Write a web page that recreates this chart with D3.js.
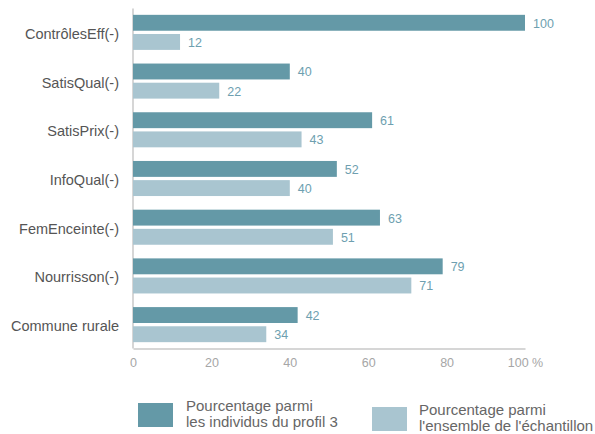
<!DOCTYPE html>
<html>
<head>
<meta charset="utf-8">
<script src="https://cdn.jsdelivr.net/npm/d3@7"></script>
<style>
  body { margin: 0; background: #fff; }
  svg { font-family: "Liberation Sans", Arial, sans-serif; }
</style>
</head>
<body>
<svg id="chart"></svg>
<script>
// data
const categories = ["ContrôlesEff(-)", "SatisQual(-)", "SatisPrix(-)", "InfoQual(-)", "FemEnceinte(-)", "Nourrisson(-)", "Commune rurale"];
const profil3 = [100, 40, 61, 52, 63, 79, 42];
const echantillon = [12, 22, 43, 40, 51, 71, 34];
const xTicks = [0, 20, 40, 60, 80, 100];
const seriesNames = ["profil3", "echantillon"];
const legendLabels = [
  ["Pourcentage parmi", "les individus du profil 3"],
  ["Pourcentage parmi", "l'ensemble de l'échantillon"]
];

const width = 595;
const height = 434;
const margin = { top: 8.5, right: 70, bottom: 85.5, left: 133 };
const colors = ["#6499a7", "#a9c5d0"];
const valueColor = "#6e9fb0";

const svg = d3.select("#chart")
  .attr("width", width)
  .attr("height", height);

// Scales
const x = d3.scaleLinear()
  .domain([0, 100])
  .range([margin.left, width - margin.right]);

const y = d3.scaleBand()
  .domain(categories)
  .range([margin.top, height - margin.bottom])
  .paddingInner(0.28)
  .paddingOuter(0.13);

const ySub = d3.scaleBand()
  .domain(seriesNames)
  .range([0, y.bandwidth()])
  .paddingInner(0.17);

const rows = categories.map((c, i) => ({ category: c, profil3: profil3[i], echantillon: echantillon[i] }));

// X axis
const xAxis = svg.append("g")
  .attr("transform", `translate(0,${height - margin.bottom})`)
  .call(d3.axisBottom(x).tickValues(xTicks).tickSize(0).tickPadding(10)
    .tickFormat(d => d === 100 ? "100 %" : d));
xAxis.select(".domain").attr("stroke", "#c8c8c8").attr("stroke-width", 1.5);
xAxis.selectAll("text")
  .attr("fill", "#a6a6a6")
  .attr("font-size", 12.5)
  .attr("font-family", "Liberation Sans, Arial, sans-serif");

// Y axis line
svg.append("line")
  .attr("x1", x(0)).attr("x2", x(0))
  .attr("y1", margin.top).attr("y2", height - margin.bottom)
  .attr("stroke", "#c8c8c8")
  .attr("stroke-width", 1.5);

// Category labels
svg.selectAll(".cat-label")
  .data(rows)
  .enter()
  .append("text")
  .attr("class", "cat-label")
  .attr("x", x(0) - 14)
  .attr("y", d => y(d.category) + y.bandwidth() / 2 + 1.5)
  .attr("dy", "0.35em")
  .attr("text-anchor", "end")
  .attr("fill", "#555")
  .attr("font-size", 14.5)
  .text(d => d.category);

// Bars
seriesNames.forEach((s, si) => {
  svg.selectAll(".bar-" + s)
    .data(rows)
    .enter()
    .append("rect")
    .attr("class", "bar-" + s)
    .attr("x", x(0))
    .attr("y", d => y(d.category) + ySub(s))
    .attr("width", d => x(d[s]) - x(0))
    .attr("height", ySub.bandwidth())
    .attr("fill", colors[si]);

  svg.selectAll(".val-" + s)
    .data(rows)
    .enter()
    .append("text")
    .attr("class", "val-" + s)
    .attr("x", d => x(d[s]) + 8)
    .attr("y", d => y(d.category) + ySub(s) + ySub.bandwidth() / 2 + 0.5)
    .attr("dy", "0.35em")
    .attr("fill", valueColor)
    .attr("font-size", 12.5)
    .text(d => d[s]);
});

// Legend
const legendX = [138, 372];
const legendY = [403, 407];
legendLabels.forEach((lines, i) => {
  const g = svg.append("g").attr("transform", `translate(${legendX[i]},${legendY[i]})`);
  g.append("rect")
    .attr("width", 35)
    .attr("height", 24)
    .attr("fill", colors[i]);
  lines.forEach((t, j) => {
    g.append("text")
      .attr("x", 48 - i)
      .attr("y", 8 + j * 16)
      .attr("fill", "#666")
      .attr("font-size", 15)
      .text(t);
  });
});
</script>
</body>
</html>
